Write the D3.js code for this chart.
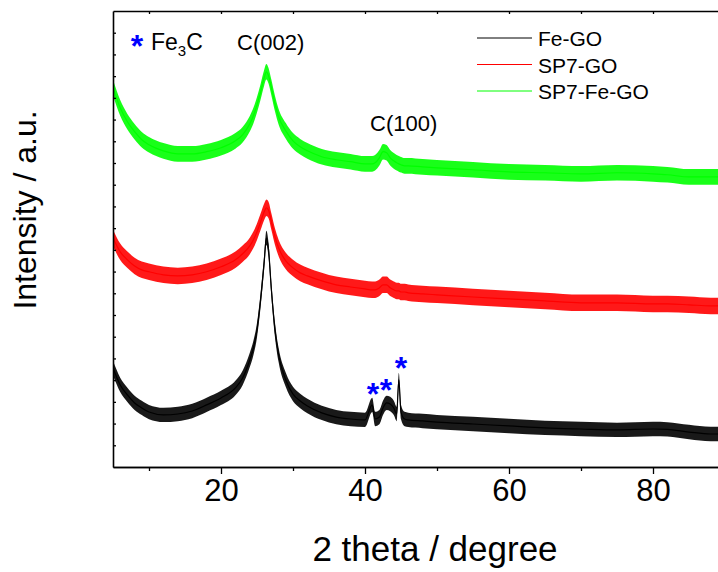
<!DOCTYPE html>
<html><head><meta charset="utf-8">
<script src="https://cdn.jsdelivr.net/npm/d3@7"></script>
<style>
body{margin:0;background:#fff;}
svg{display:block;font-family:"Liberation Sans",Arial,Helvetica,sans-serif;}
</style></head>
<body><svg id="c" width="718" height="572"></svg>
<script>
// 2θ grid (degree)
const twoTheta = [5,6,7,8,9,10,12,14,16,18,20,22,23,24,24.5,25,25.5,26,26.3,26.6,27,27.5,28,29,30,31,32,34,36,38,40,41,41.4,42,42.5,43,43.5,44,44.4,44.7,45,45.5,46,48,50,55,60,65,70,75,80,82,85,88,90];
// Intensity (a.u., stacked offsets included)
const feGO = [4.56,3.78,3.32,2.95,2.72,2.53,2.40,2.44,2.58,2.86,3.18,3.64,4.10,4.93,5.48,6.31,7.70,9.45,10.55,10.00,8.16,6.31,5.16,4.01,3.36,3.04,2.81,2.49,2.30,2.21,2.17,2.86,2.21,2.30,2.72,2.95,2.90,2.72,2.44,4.01,2.53,2.21,2.17,2.12,2.07,1.98,1.89,1.80,1.75,1.71,1.75,1.73,1.61,1.52,1.52];
const sp7GO = [10.55,9.91,9.54,9.26,9.08,8.99,8.85,8.80,8.85,8.99,9.22,9.54,9.82,10.18,10.46,10.83,11.29,11.75,11.94,11.84,11.29,10.60,10.09,9.49,9.17,8.94,8.80,8.57,8.39,8.29,8.20,8.16,8.16,8.25,8.39,8.39,8.25,8.16,8.11,8.11,8.06,8.06,8.02,7.97,7.93,7.83,7.74,7.65,7.56,7.56,7.51,7.51,7.47,7.42,7.42];
const sp7FeGO = [17.47,16.54,15.90,15.44,15.07,14.84,14.56,14.42,14.42,14.52,14.70,15.02,15.30,15.81,16.18,16.68,17.28,17.93,18.20,18.02,17.47,16.73,16.13,15.48,15.02,14.75,14.56,14.29,14.15,14.06,13.96,13.96,14.01,14.24,14.52,14.47,14.24,14.10,14.01,13.96,13.92,13.87,13.87,13.82,13.78,13.69,13.59,13.55,13.50,13.55,13.50,13.46,13.36,13.36,13.36];
// noise band half-width (a.u.)
const noiseFeGO = 0.33, noiseSP7GO = 0.38, noiseSP7FeGO = 0.36;
const seriesNames = ["Fe-GO","SP7-GO","SP7-Fe-GO"];
const seriesColors = ["#000000","#ff0000","#00ff00"];
const xMajorTicks = [20,40,60,80];
const xMinorTicks = [10,30,50,70,90];
const yTicks = [1,2,3,4,5,6,7,8,9,10,11,12,13,14,15,16,17,18,19,20];
// Fe3C reflections marked with asterisks: 2θ and marker level
const fe3cTheta = [41.1,42.9,45.0];
const fe3cLevel = [3.69,3.87,4.88];

const svg = d3.select("#c");
const L=113, T=11, B=467;
const x = d3.scaleLinear().domain([5,90]).range([L, L+85*7.2]);
const y = d3.scaleLinear().domain([0,21]).range([B, T]);

svg.append("clipPath").attr("id","pc").append("rect")
  .attr("x",L).attr("y",T).attr("width",718-L).attr("height",B-T);

const data = [feGO, sp7GO, sp7FeGO];
const noise = [noiseFeGO, noiseSP7GO, noiseSP7FeGO];
const g = svg.append("g").attr("clip-path","url(#pc)");
data.forEach((vals,i)=>{
  const pts = twoTheta.map((t,k)=>({t, v: vals[k]}));
  const area = d3.area().x(d=>x(d.t)).y0(d=>y(d.v-noise[i])).y1(d=>y(d.v+noise[i])).curve(d3.curveMonotoneX);
  g.append("path").attr("d",area(pts)).attr("fill",seriesColors[i]).attr("fill-opacity",0.9);
  const line = d3.line().x(d=>x(d.t)).y(d=>y(d.v)).curve(d3.curveMonotoneX);
  g.append("path").attr("d",line(pts)).attr("fill","none").attr("stroke",seriesColors[i]).attr("stroke-width",1.2);
});

// axes
const axStyle = sel => { sel.selectAll("path.domain").attr("stroke","#000").attr("stroke-width",1.6).attr("fill","none");
  sel.selectAll(".tick line").attr("stroke","#000").attr("stroke-width",1.3); };
const axBottom = svg.append("g").attr("transform",`translate(0,${B})`)
  .call(d3.axisBottom(x).tickValues(xMajorTicks).tickSize(7).tickSizeOuter(0).tickPadding(5).tickFormat(d3.format("d")));
axBottom.selectAll("text").attr("font-size",31).attr("fill","#000").attr("font-family","Liberation Sans, Arial, sans-serif");
axStyle(axBottom);
const axBottomMinor = svg.append("g").attr("transform",`translate(0,${B})`)
  .call(d3.axisBottom(x).tickValues(xMinorTicks).tickSize(4).tickSizeOuter(0).tickFormat(""));
axStyle(axBottomMinor);
const axTop = svg.append("g").attr("transform",`translate(0,${T})`)
  .call(d3.axisTop(x).tickValues([10,20,30,40,50,60,70,80,90]).tickSize(-3).tickSizeOuter(0).tickFormat(""));
axStyle(axTop);
const axLeft = svg.append("g").attr("transform",`translate(${L},0)`)
  .call(d3.axisLeft(y).tickValues(yTicks).tickSize(-3).tickSizeOuter(0).tickFormat(""));
axStyle(axLeft);

// axis titles
svg.append("text").attr("x",435).attr("y",561).attr("text-anchor","middle")
  .attr("font-size",35).text("2 theta / degree");
svg.append("text").attr("transform","translate(36,210) rotate(-90)").attr("text-anchor","middle")
  .attr("font-size",32).text("Intensity / a.u.");

// legend
const lg = svg.append("g");
seriesNames.forEach((n,i)=>{
  const yy = 38 + i*26.5;
  lg.append("line").attr("x1",477).attr("x2",532).attr("y1",yy).attr("y2",yy)
    .attr("stroke",seriesColors[i]).attr("stroke-width",1);
  lg.append("text").attr("x",538).attr("y",yy+8).attr("font-size",21).text(n);
});

// annotations
const blue = "#0000ff";
svg.append("text").attr("x",137).attr("y",39+18).attr("text-anchor","middle")
  .attr("font-size",32).attr("font-weight","bold").attr("fill",blue).text("*");
const fe = svg.append("text").attr("x",151).attr("y",50).attr("font-size",23);
fe.append("tspan").text("Fe");
fe.append("tspan").attr("font-size",15).attr("dy",6).text("3");
fe.append("tspan").attr("dy",-6).text("C");
svg.append("text").attr("x",237).attr("y",50).attr("font-size",22).text("C(002)");
svg.append("text").attr("x",370).attr("y",131).attr("font-size",22).text("C(100)");
fe3cTheta.forEach((t,i)=>{
  svg.append("text").attr("x",x(t)).attr("y",y(fe3cLevel[i])+18).attr("text-anchor","middle")
    .attr("font-size",32).attr("font-weight","bold").attr("fill",blue).text("*");
});
</script></body></html>
